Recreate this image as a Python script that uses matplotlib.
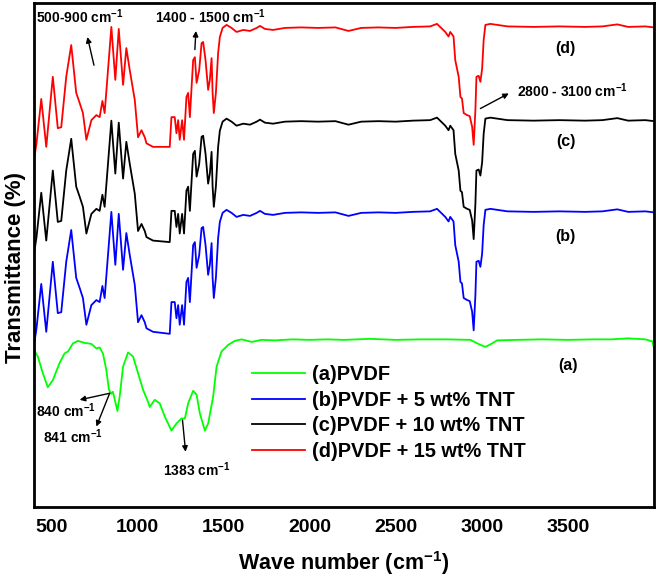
import matplotlib
matplotlib.use("Agg")
import matplotlib.pyplot as plt

plt.rcParams['font.family'] = ['Liberation Sans', 'DejaVu Sans']
plt.rcParams['font.weight'] = 'bold'
plt.rcParams['mathtext.fontset'] = 'custom'
plt.rcParams['mathtext.rm'] = 'Liberation Sans:bold'
plt.rcParams['mathtext.default'] = 'rm'

# wavenumber grid (cm-1)
wn_tnt = [400, 414, 442, 471, 509, 538, 558, 587, 616, 645, 665, 684, 704, 733, 762, 781, 797, 810,
          849, 872, 892, 917, 936, 956, 985, 1004, 1024, 1043, 1053, 1091, 1188, 1198, 1217, 1227,
          1237, 1246, 1260, 1271, 1285, 1295, 1305, 1315, 1324, 1334, 1344, 1359, 1373, 1382, 1396,
          1411, 1421, 1431, 1437, 1444, 1456, 1469, 1479, 1495, 1518, 1547, 1576, 1615, 1654, 1693,
          1712, 1741, 1788, 1857, 1950, 2050, 2150, 2226, 2300, 2400, 2500, 2600, 2700, 2740, 2788,
          2807, 2817, 2836, 2846, 2866, 2876, 2885, 2895, 2915, 2930, 2944, 2953, 2963, 2969, 2982,
          2992, 3002, 3011, 3021, 3050, 3150, 3300, 3450, 3600, 3700, 3787, 3850, 3950, 4000]

# (d) PVDF + 15 wt% TNT
t_d = [68.8, 72.0, 80.9, 71.4, 85.3, 75.1, 75.3, 85.3, 91.6, 82.1, 80.1, 78.1, 72.8, 76.7, 77.7, 77.3,
       80.5, 78.1, 95.2, 84.7, 94.8, 83.7, 91.0, 86.6, 80.7, 73.3, 74.7, 73.3, 72.1, 71.4, 71.4, 77.3,
       77.3, 74.1, 76.7, 72.8, 76.7, 72.8, 81.3, 82.1, 77.3, 83.3, 88.6, 89.2, 84.1, 86.6, 92.0, 92.2,
       88.6, 82.7, 84.7, 89.0, 82.1, 78.1, 82.1, 90.0, 93.2, 95.0, 95.6, 95.0, 94.2, 94.6, 94.4, 95.0,
       95.4, 94.8, 94.6, 95.0, 95.1, 95.0, 95.1, 94.4, 95.0, 95.1, 95.0, 95.2, 95.3, 95.8, 94.2, 93.3,
       94.2, 93.3, 88.6, 85.3, 81.3, 81.0, 78.1, 77.7, 77.5, 75.4, 71.8, 78.7, 85.3, 85.5, 84.3, 86.9,
       92.6, 95.6, 95.8, 95.3, 95.2, 95.3, 95.2, 95.3, 95.7, 95.2, 95.3, 95.1]

# (c) PVDF + 10 wt% TNT
t_c = [50.2, 53.4, 62.3, 52.8, 66.7, 56.5, 56.7, 66.7, 73.0, 63.5, 61.5, 59.5, 54.2, 58.1, 59.1, 58.7,
       61.9, 59.5, 76.6, 66.1, 76.2, 65.1, 72.4, 68.0, 62.1, 54.7, 56.1, 54.7, 53.5, 52.8, 52.5, 58.7,
       58.7, 55.5, 58.1, 54.2, 58.1, 54.2, 62.7, 63.5, 58.7, 64.7, 70.0, 70.6, 65.5, 68.0, 73.4, 73.6,
       70.0, 64.1, 66.1, 70.4, 63.5, 59.5, 63.5, 71.4, 74.6, 76.4, 77.0, 76.4, 75.6, 76.0, 75.8, 76.4,
       76.8, 76.2, 76.0, 76.4, 76.5, 76.4, 76.5, 75.8, 76.4, 76.5, 76.4, 76.6, 76.7, 77.2, 75.6, 74.7,
       75.6, 74.7, 70.0, 66.7, 62.7, 62.4, 59.5, 59.1, 58.9, 56.8, 53.1, 60.1, 66.7, 66.9, 65.7, 68.3,
       74.0, 77.0, 77.2, 76.7, 76.6, 76.7, 76.6, 76.7, 77.1, 76.6, 76.7, 76.5]

# (b) PVDF + 5 wt% TNT
t_b = [32.1, 35.3, 44.2, 34.7, 48.6, 38.4, 38.6, 48.6, 54.9, 45.4, 43.4, 41.4, 36.1, 40.0, 41.0, 40.6,
       43.8, 41.4, 58.5, 48.0, 58.1, 47.0, 54.3, 49.9, 44.0, 36.6, 38.0, 36.6, 35.4, 34.7, 34.3, 40.6,
       40.6, 37.4, 40.0, 36.1, 40.0, 36.1, 44.6, 45.4, 40.6, 46.6, 51.9, 52.5, 47.4, 49.9, 55.3, 55.5,
       51.9, 46.0, 48.0, 52.3, 45.4, 41.4, 45.4, 53.3, 56.5, 58.3, 58.9, 58.3, 57.5, 57.9, 57.7, 58.3,
       58.7, 58.1, 57.9, 58.3, 58.4, 58.3, 58.4, 57.7, 58.3, 58.4, 58.3, 58.5, 58.6, 59.1, 57.5, 56.6,
       57.5, 56.6, 51.9, 48.6, 44.6, 44.3, 41.4, 41.0, 40.8, 38.7, 35.0, 42.0, 48.6, 48.8, 47.6, 50.2,
       55.9, 58.9, 59.1, 58.6, 58.5, 58.6, 58.5, 58.6, 59.0, 58.5, 58.6, 58.4]

# (a) neat PVDF
wn_a = [400, 422, 451, 480, 509, 548, 577, 597, 626, 655, 694, 733, 762, 781, 800, 820, 835, 849, 858,
        872, 884, 897, 917, 946, 975, 1004, 1033, 1062, 1072, 1101, 1130, 1159, 1198, 1227, 1256, 1276,
        1295, 1324, 1344, 1363, 1392, 1411, 1440, 1460, 1489, 1527, 1566, 1605, 1664, 1722, 1800, 1900,
        2000, 2100, 2200, 2352, 2500, 2650, 2800, 2934, 2980, 3021, 3060, 3089, 3200, 3350, 3500, 3650,
        3750, 3850, 3950, 3990, 4000]
t_a = [31.1, 29.8, 26.5, 23.7, 25.1, 28.5, 30.4, 30.8, 32.4, 32.9, 32.5, 32.3, 31.4, 31.6, 30.4, 27.1,
       23.2, 22.4, 22.8, 20.8, 19.0, 21.8, 27.8, 30.6, 29.8, 26.5, 23.2, 20.8, 19.8, 21.2, 20.5, 17.9,
       15.1, 16.5, 17.5, 17.5, 20.5, 23.0, 22.2, 18.5, 15.1, 16.5, 21.8, 27.8, 30.8, 32.1, 32.9, 33.2,
       32.7, 33.1, 33.0, 33.2, 33.1, 33.2, 33.1, 33.3, 33.1, 33.2, 33.2, 33.1, 32.3, 31.7, 32.4, 33.0,
       33.1, 33.2, 33.1, 33.2, 33.2, 33.4, 33.2, 32.8, 31.5]

labels = ['(a)PVDF', '(b)PVDF + 5 wt% TNT', '(c)PVDF + 10 wt% TNT', '(d)PVDF + 15 wt% TNT']

fig = plt.figure(figsize=(6.57, 5.79), dpi=100)
ax = fig.add_axes([0.0518, 0.1249, 0.9436, 0.8704])

ax.plot(wn_a, t_a, color='#00ff00', lw=1.3, label=labels[0])
ax.plot(wn_tnt, t_b, color='#0000ff', lw=1.3, label=labels[1])
ax.plot(wn_tnt, t_c, color='black', lw=1.3, label=labels[2])
ax.plot(wn_tnt, t_d, color='#ff0000', lw=1.3, label=labels[3])

ax.set_xlim(400, 4000)
ax.set_ylim(0, 100)
ax.set_xticks([500, 1000, 1500, 2000, 2500, 3000, 3500])
ax.set_yticks([])
ax.tick_params(axis='x', length=0, pad=9, labelsize=14)
for s in ax.spines.values():
    s.set_linewidth(2)

ax.set_xlabel('Wave number (cm$^{-1}$)', fontsize=15.5, fontweight='bold', labelpad=9)
ax.set_ylabel('Transmittance (%)', fontsize=16, fontweight='bold')
ax.yaxis.set_label_coords(-0.013, 0.475)

ax.legend(loc='center left', bbox_to_anchor=(0.351, 0.186), frameon=False, fontsize=14.4,
          handlelength=2.65, handletextpad=0.35, labelspacing=0.33, borderpad=0, borderaxespad=0)

# curve tags
for txt, x, y in [('(d)', 3486, 90.9), ('(c)', 3486, 72.4), ('(b)', 3486, 53.6), ('(a)', 3500, 28.1)]:
    ax.text(x, y, txt, fontsize=11.5, ha='center', va='center')

arrow = dict(arrowstyle='-|>', lw=1, color='black', mutation_scale=8, shrinkA=0, shrinkB=0)
ax.annotate('', xy=(710, 93.2), xytext=(748, 87.6), arrowprops=arrow)
ax.text(412, 95.9, '500-900 cm$^{-1}$', fontsize=10, va='baseline')
ax.annotate('', xy=(1340, 94.4), xytext=(1334, 90.7), arrowprops=arrow)
ax.text(1101, 95.9, '1400 - 1500 cm$^{-1}$', fontsize=10, va='baseline')
ax.annotate('', xy=(3157, 82.0), xytext=(2992, 79.0), arrowprops=arrow)
ax.text(3205, 81.3, '2800 - 3100 cm$^{-1}$', fontsize=10, va='baseline')

ax.annotate('', xy=(665, 21.2), xytext=(839, 22.5), arrowprops=arrow)
ax.annotate('', xy=(762, 15.9), xytext=(839, 22.5), arrowprops=arrow)
ax.text(409, 17.7, '840 cm$^{-1}$', fontsize=10, va='baseline')
ax.text(450, 12.6, '841 cm$^{-1}$', fontsize=10, va='baseline')
ax.annotate('', xy=(1280, 10.9), xytext=(1262, 17.2), arrowprops=arrow)
ax.text(1148, 6.0, '1383 cm$^{-1}$', fontsize=10, va='baseline')

fig.savefig('out.png', dpi=100)
